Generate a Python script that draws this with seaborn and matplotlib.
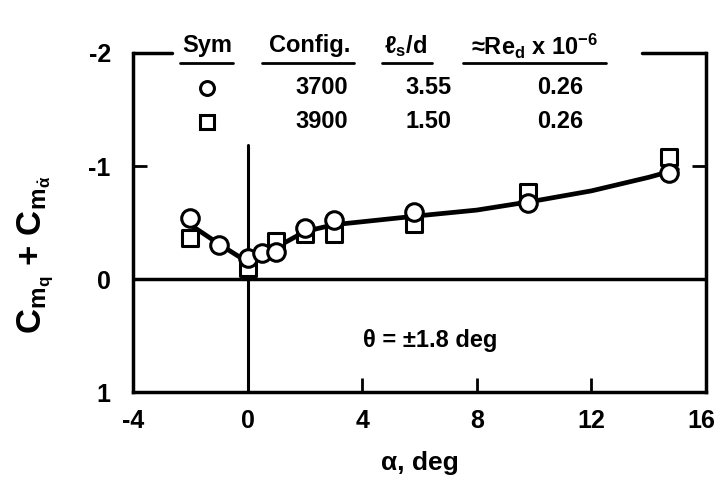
import numpy as np
import pandas as pd
import matplotlib
matplotlib.use("Agg")
import matplotlib.pyplot as plt
import matplotlib.transforms as mtransforms
import seaborn as sns

sns.set_style("ticks")
FONT = ["Liberation Sans", "DejaVu Sans"]
plt.rcParams["font.family"] = FONT
plt.rcParams["font.weight"] = "bold"
plt.rcParams["mathtext.fontset"] = "custom"
plt.rcParams["mathtext.rm"] = "Liberation Sans:bold"
plt.rcParams["mathtext.it"] = "Liberation Sans:bold"
plt.rcParams["mathtext.bf"] = "Liberation Sans:bold"
plt.rcParams["mathtext.default"] = "rm"
for key in ["text.color", "axes.labelcolor", "xtick.color", "ytick.color", "axes.edgecolor"]:
    plt.rcParams[key] = "black"

# data
alpha_circle = [-2, -1, 0, 0.5, 1, 2, 3, 5.8, 9.8, 14.7]
cm_circle = [-0.54, -0.30, -0.19, -0.23, -0.24, -0.45, -0.52, -0.59, -0.67, -0.94]
alpha_square = [-2, 0, 1, 2, 3, 5.8, 9.8, 14.7]
cm_square = [-0.36, -0.10, -0.34, -0.40, -0.40, -0.49, -0.77, -1.08]
# faired curve
alpha_fair = [-2, -1, 0, 0.5, 1, 2, 3, 6, 8, 10, 12, 14, 15]
cm_fair = [-0.48, -0.31, -0.15, -0.20, -0.28, -0.42, -0.48, -0.56, -0.61, -0.69, -0.78, -0.90, -0.97]

x_ticks = [-4, 0, 4, 8, 12, 16]
y_ticks = [-2, -1, 0, 1]

configs = ["3700", "3900"]
ls_d = ["3.55", "1.50"]
re_d = ["0.26", "0.26"]

circ_df = pd.DataFrame({"alpha": alpha_circle, "cm": cm_circle})
sq_df = pd.DataFrame({"alpha": alpha_square, "cm": cm_square})
fair_df = pd.DataFrame({"alpha": alpha_fair, "cm": cm_fair})

fig = plt.figure(figsize=(7.17, 4.8), dpi=100)
ax = fig.add_axes([0.1855, 0.1833, 0.7992, 0.7063])

sns.lineplot(data=fair_df, x="alpha", y="cm", ax=ax, color="black", lw=3.4, sort=False, zorder=2)
sns.scatterplot(data=sq_df, x="alpha", y="cm", ax=ax, marker="s", s=130,
                facecolor="white", edgecolor="black", linewidth=2.2, zorder=3)
sns.scatterplot(data=circ_df, x="alpha", y="cm", ax=ax, marker="o", s=160,
                facecolor="white", edgecolor="black", linewidth=2.2, zorder=4)

ax.axhline(0, color="black", lw=2.5, zorder=1)
ax.axvline(0, ymin=0, ymax=0.729, color="black", lw=2.2, zorder=1)

ax.set_xlim(-4, 16)
ax.set_ylim(1, -2)
ax.set_xticks(x_ticks)
ax.set_yticks(y_ticks)
ax.set_xticklabels([str(t) for t in x_ticks])
ax.set_yticklabels([str(t) for t in y_ticks])
ax.tick_params(direction="in", length=10, width=2, labelsize=18)
ax.tick_params(axis="x", pad=12)
ax.tick_params(axis="y", right=True, pad=16)
for lab in ax.get_xticklabels() + ax.get_yticklabels():
    lab.set_fontweight("bold")
# keep the last x label inside the figure
last = ax.get_xticklabels()[-1]
last.set_transform(last.get_transform() + mtransforms.ScaledTranslation(-0.05, 0, fig.dpi_scale_trans))
ax.set_xlabel("")
ax.set_ylabel("")

for side in ["left", "bottom", "right"]:
    ax.spines[side].set_linewidth(2.5)
ax.spines["top"].set_visible(False)
# top frame broken by the key table
ax.plot([0, 0.068], [1, 1], transform=ax.transAxes, color="black", lw=2.5, clip_on=False)
ax.plot([0.888, 1], [1, 1], transform=ax.transAxes, color="black", lw=2.5, clip_on=False)

fig.text(0.586, 0.035, "α, deg", ha="center", va="center", fontsize=19, fontweight="bold")
fig.text(0.05, 0.47, r"C$_{m_q}$ + C$_{m_{\dot{\alpha}}}$", rotation=90,
         ha="center", va="center", fontsize=25, fontweight="bold")

ax.text(0.518, 0.153, "θ = ±1.8 deg", transform=ax.transAxes, ha="center", va="center",
        fontsize=17, fontweight="bold")

# key table above the plot
def fx(px):
    return (px - 133) / 573

def fy(py):
    return (392 - py) / 339

heads = [("Sym", 207, 180, 233), ("Config.", 310, 262, 354),
         (r"$\ell_s$/d", 406, 382, 432), (r"≈Re$_d$ x 10$^{-6}$", 535, 463, 606)]
for text, cx, x0, x1 in heads:
    ax.text(fx(cx), fy(46), text, transform=ax.transAxes, ha="center", va="center",
            fontsize=17, fontweight="bold", clip_on=False)
    ax.plot([fx(x0), fx(x1)], [fy(63), fy(63)], transform=ax.transAxes, color="black",
            lw=2, clip_on=False)

row_y = [88, 122]
markers = ["o", "s"]
for i in range(2):
    ax.plot([fx(207)], [fy(row_y[i])], transform=ax.transAxes, marker=markers[i],
            ms=10, mfc="white", mec="black", mew=2.2, clip_on=False, ls="none")
    ax.text(fx(322), fy(row_y[i]), configs[i], transform=ax.transAxes, ha="center",
            va="center", fontsize=17, fontweight="bold", clip_on=False)
    ax.text(fx(428), fy(row_y[i]), ls_d[i], transform=ax.transAxes, ha="center",
            va="center", fontsize=17, fontweight="bold", clip_on=False)
    ax.text(fx(560), fy(row_y[i]), re_d[i], transform=ax.transAxes, ha="center",
            va="center", fontsize=17, fontweight="bold", clip_on=False)

fig.savefig("out.png", dpi=100)
